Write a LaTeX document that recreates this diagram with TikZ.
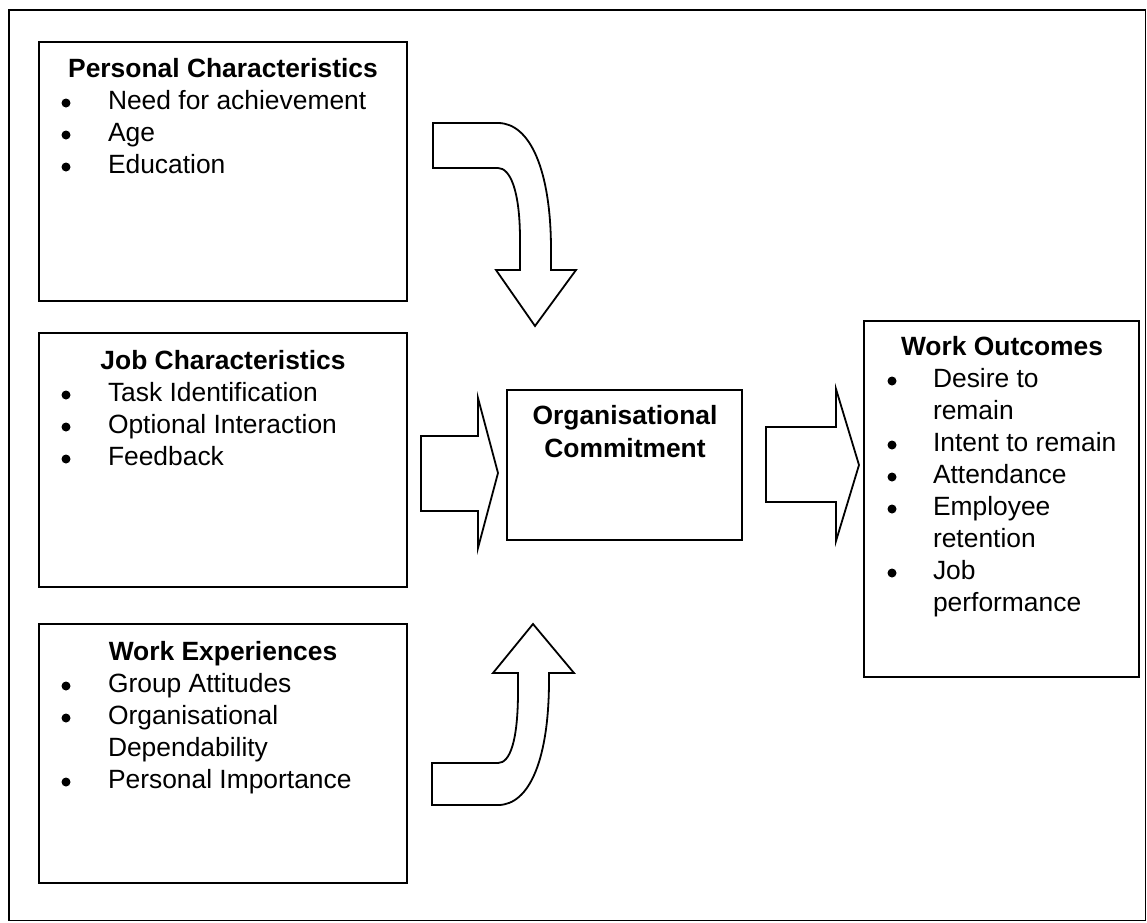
\documentclass[tikz,border=0pt]{standalone}
\usepackage{fontspec}
\setmainfont{Liberation Sans}
\begin{document}
\begin{tikzpicture}[x=1pt,y=-1pt,
  every node/.style={inner sep=0pt, outer sep=0pt},
  font=\fontsize{26.4}{32}\selectfont,
  panel/.style={draw, line width=1.8pt, anchor=north west},
  heading/.style={anchor=base, font=\fontsize{26.4}{32}\selectfont\bfseries},
  item/.style={anchor=base west},
  bul/.style={circle, fill, minimum size=9pt},
  blockarrow/.style={draw, line width=1.8pt, line join=miter, fill=white}]
\useasboundingbox (0,0) rectangle (1147,922);

% outer frame
\node[panel, minimum width=1136.5pt, minimum height=910.5pt] (frame) at (9,10) {};

% panels
\node[panel, minimum width=368pt, minimum height=259pt] (pc) at (39,42) {};
\node[panel, minimum width=368pt, minimum height=254pt] (jc) at (39,333) {};
\node[panel, minimum width=368pt, minimum height=259pt] (we) at (39,624) {};
\node[panel, minimum width=235pt, minimum height=150pt] (oc) at (507,390) {};
\node[panel, minimum width=275pt, minimum height=356pt] (wo) at (864,321) {};

% Personal Characteristics
\node[heading] (pc-h) at (223,77) {Personal Characteristics};
\node[bul] (pc-b1) at (66,103) {};
\node[item] (pc-1) at (108,109) {Need for achievement};
\node[bul] (pc-b2) at (66,135) {};
\node[item] (pc-2) at (108,141) {Age};
\node[bul] (pc-b3) at (66,167) {};
\node[item] (pc-3) at (108,173) {Education};

% Job Characteristics
\node[heading] (jc-h) at (223,369) {Job Characteristics};
\node[bul] (jc-b1) at (66,395) {};
\node[item] (jc-1) at (108,401) {Task Identification};
\node[bul] (jc-b2) at (66,427) {};
\node[item] (jc-2) at (108,433) {Optional Interaction};
\node[bul] (jc-b3) at (66,459) {};
\node[item] (jc-3) at (108,465) {Feedback};

% Work Experiences
\node[heading] (we-h) at (223,660) {Work Experiences};
\node[bul] (we-b1) at (66,686) {};
\node[item] (we-1) at (108,692) {Group Attitudes};
\node[bul] (we-b2) at (66,718) {};
\node[item] (we-2) at (108,724) {Organisational};
\node[item] (we-2b) at (108,756) {Dependability};
\node[bul] (we-b3) at (66,782) {};
\node[item] (we-3) at (108,788) {Personal Importance};

% Organisational Commitment
\node[heading] (oc-h1) at (625,424) {Organisational};
\node[heading] (oc-h2) at (625,457) {Commitment};

% Work Outcomes
\node[heading] (wo-h) at (1002,355) {Work Outcomes};
\node[bul] (wo-b1) at (892,381) {};
\node[item] (wo-1) at (933,387) {Desire to};
\node[item] (wo-1b) at (933,419) {remain};
\node[bul] (wo-b2) at (892,445) {};
\node[item] (wo-2) at (933,451) {Intent to remain};
\node[bul] (wo-b3) at (892,477) {};
\node[item] (wo-3) at (933,483) {Attendance};
\node[bul] (wo-b4) at (892,509) {};
\node[item] (wo-4) at (933,515) {Employee};
\node[item] (wo-4b) at (933,547) {retention};
\node[bul] (wo-b5) at (892,573) {};
\node[item] (wo-5) at (933,579) {Job};
\node[item] (wo-5b) at (933,611) {performance};

% curved block arrow from the top panel down to the commitment box
\draw[blockarrow] (433,123) -- (498,123)
  .. controls (530,123) and (551,170) .. (551,250) -- (551,270)
  -- (576,270) -- (535,326) -- (496,270) -- (520,270) -- (520,240)
  .. controls (520,190) and (510,168) .. (498,168) -- (433,168) -- cycle;

% straight block arrow from the middle panel
\draw[blockarrow] (421,436) -- (478,436) -- (478,398) -- (498,473)
  -- (478,548) -- (478,511) -- (421,511) -- cycle;

% curved block arrow from the bottom panel up to the commitment box
\draw[blockarrow] (432,763) -- (498,763)
  .. controls (510,763) and (518,741) .. (518,691) -- (518,673)
  -- (493,673) -- (533,624) -- (574,673) -- (549,673) -- (549,680)
  .. controls (549,758) and (530,805) .. (498,805) -- (432,805) -- cycle;

% block arrow from commitment to outcomes
\draw[blockarrow] (766,427) -- (836,427) -- (836,389) -- (859,465)
  -- (836,541) -- (836,502) -- (766,502) -- cycle;
\end{tikzpicture}
\end{document}
